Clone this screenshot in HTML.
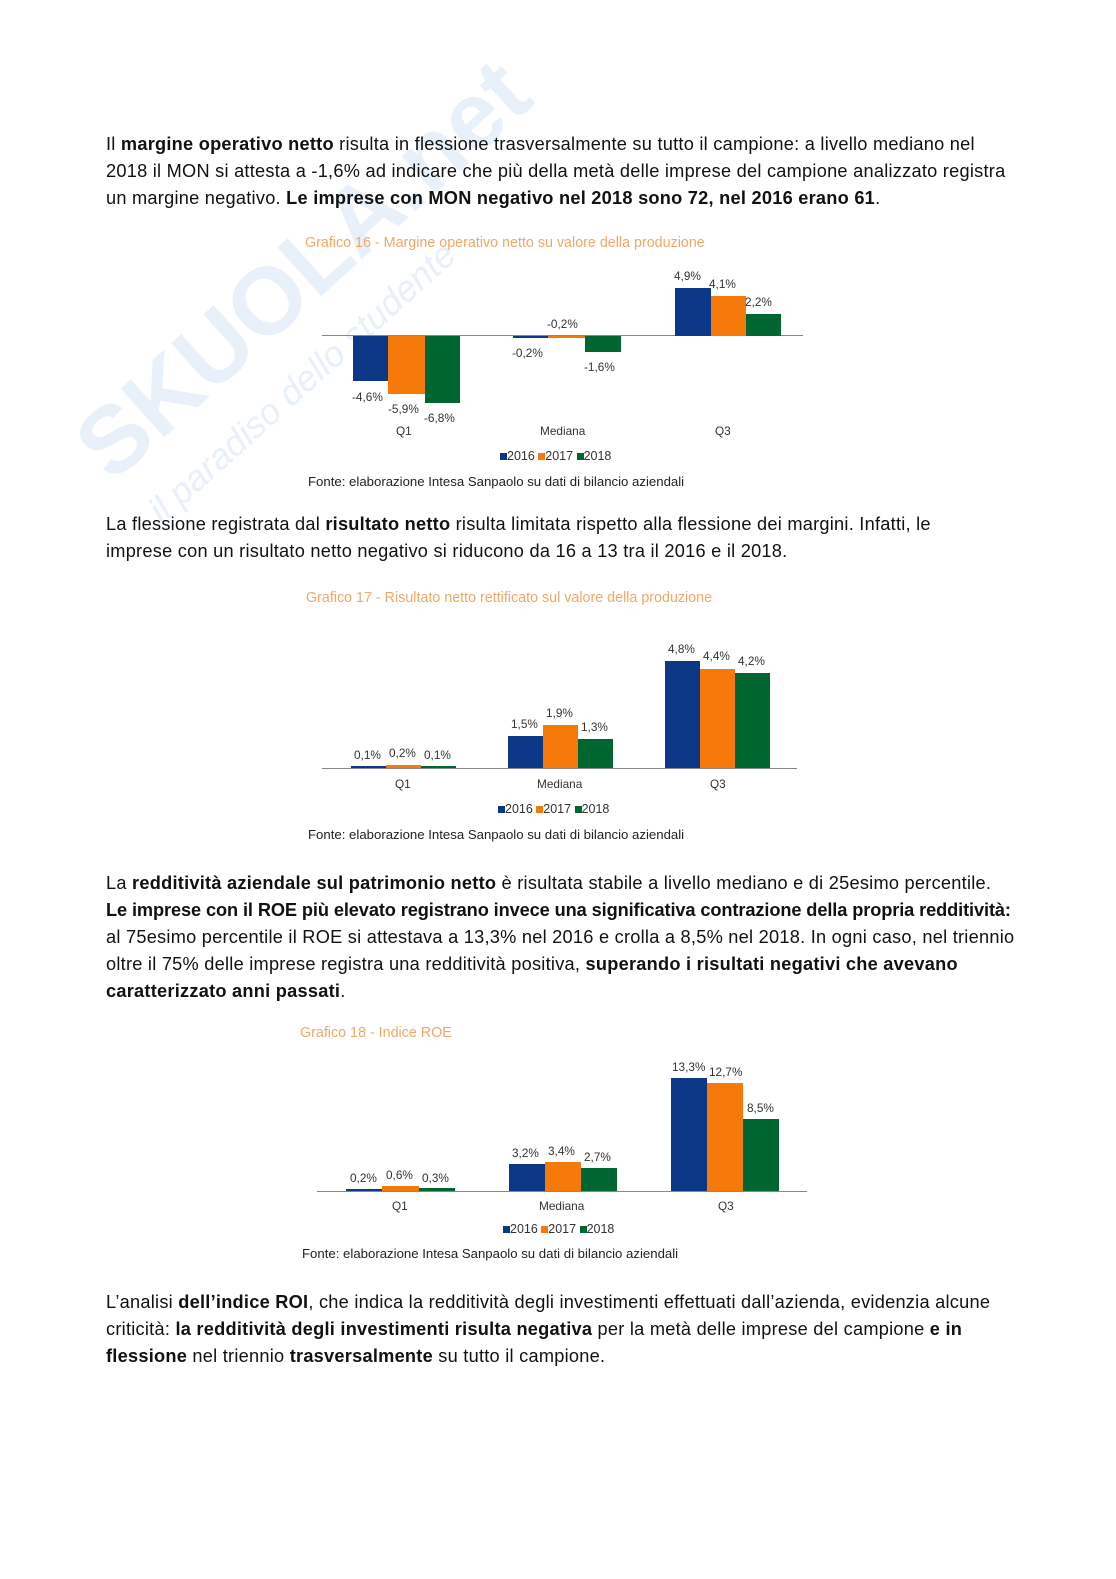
<!DOCTYPE html>
<html><head><meta charset="utf-8"><style>
body{margin:0;background:#fff;width:1116px;height:1579px;position:relative;overflow:hidden;font-family:"Liberation Sans",sans-serif}
.t{position:absolute;left:106px;font-size:18.2px;color:#111;white-space:nowrap;line-height:27px;letter-spacing:0.25px}
.a{position:absolute;font-size:11.8px;color:#333;white-space:nowrap}
.lg{font-size:12.5px}
.b{position:absolute}
.B{background:#0c3787}.O{background:#f57a0a}.G{background:#006631}
.ti{position:absolute;font-size:14.3px;color:#f0a868;white-space:nowrap}
.f{font-size:13.2px!important;color:#222!important}
.wm{position:absolute;font-size:95px;font-weight:bold;color:#e8f0f9;transform:rotate(-42deg);transform-origin:left top;white-space:nowrap}
</style></head><body>
<div class="wm" style="left:55px;top:420px">SKUOLA.net</div>
<div class="wm" style="left:140px;top:500px;font-size:36px;font-weight:normal;font-style:italic">il paradiso dello studente</div>

<div class="t" style="top:131px">Il <b>margine operativo netto</b> risulta in flessione trasversalmente su tutto il campione: a livello mediano nel</div>
<div class="t" style="top:158px">2018 il MON si attesta a -1,6% ad indicare che più della metà delle imprese del campione analizzato registra</div>
<div class="t" style="top:185px">un margine negativo. <b>Le imprese con MON negativo nel 2018 sono 72, nel 2016 erano 61</b>.</div>

<div class="ti" style="left:305px;top:235px">Grafico 16 - Margine operativo netto su valore della produzione</div>
<div class="b" style="left:322px;top:335px;width:481px;height:1px;background:#888"></div>
<div class="b B" style="left:353px;top:336px;width:35px;height:45px"></div>
<div class="b O" style="left:388px;top:336px;width:37px;height:58px"></div>
<div class="b G" style="left:425px;top:336px;width:35px;height:67px"></div>
<div class="b B" style="left:513px;top:336px;width:35px;height:2px"></div>
<div class="b O" style="left:548px;top:336px;width:37px;height:2px"></div>
<div class="b G" style="left:585px;top:336px;width:36px;height:16px"></div>
<div class="b B" style="left:675px;top:288px;width:36px;height:48px"></div>
<div class="b O" style="left:711px;top:296px;width:35px;height:40px"></div>
<div class="b G" style="left:746px;top:314px;width:35px;height:22px"></div>
<div class="a" style="left:352px;top:390px">-4,6%</div>
<div class="a" style="left:388px;top:402px">-5,9%</div>
<div class="a" style="left:424px;top:411px">-6,8%</div>
<div class="a" style="left:512px;top:346px">-0,2%</div>
<div class="a" style="left:547px;top:317px">-0,2%</div>
<div class="a" style="left:584px;top:360px">-1,6%</div>
<div class="a" style="left:674px;top:269px">4,9%</div>
<div class="a" style="left:709px;top:277px">4,1%</div>
<div class="a" style="left:745px;top:295px">2,2%</div>
<div class="a" style="left:396px;top:424px">Q1</div>
<div class="a" style="left:540px;top:424px">Mediana</div>
<div class="a" style="left:715px;top:424px">Q3</div>
<div class="a lg" style="left:500px;top:449px"><span class="B" style="display:inline-block;width:7px;height:7px"></span>2016 <span class="O" style="display:inline-block;width:7px;height:7px"></span>2017 <span class="G" style="display:inline-block;width:7px;height:7px"></span>2018</div>
<div class="a f" style="left:308px;top:474px">Fonte: elaborazione Intesa Sanpaolo su dati di bilancio aziendali</div>

<div class="t" style="top:511px">La flessione registrata dal <b>risultato netto</b> risulta limitata rispetto alla flessione dei margini. Infatti, le</div>
<div class="t" style="top:538px">imprese con un risultato netto negativo si riducono da 16 a 13 tra il 2016 e il 2018.</div>

<div class="ti" style="left:306px;top:590px">Grafico 17 - Risultato netto rettificato sul valore della produzione</div>
<div class="b" style="left:322px;top:768px;width:475px;height:1px;background:#888"></div>
<div class="b B" style="left:351px;top:766px;width:35px;height:2px"></div>
<div class="b O" style="left:386px;top:765px;width:35px;height:3px"></div>
<div class="b G" style="left:421px;top:766px;width:35px;height:2px"></div>
<div class="b B" style="left:508px;top:736px;width:35px;height:32px"></div>
<div class="b O" style="left:543px;top:725px;width:35px;height:43px"></div>
<div class="b G" style="left:578px;top:739px;width:35px;height:29px"></div>
<div class="b B" style="left:665px;top:661px;width:35px;height:107px"></div>
<div class="b O" style="left:700px;top:669px;width:35px;height:99px"></div>
<div class="b G" style="left:735px;top:673px;width:35px;height:95px"></div>
<div class="a" style="left:354px;top:748px">0,1%</div>
<div class="a" style="left:389px;top:746px">0,2%</div>
<div class="a" style="left:424px;top:748px">0,1%</div>
<div class="a" style="left:511px;top:717px">1,5%</div>
<div class="a" style="left:546px;top:706px">1,9%</div>
<div class="a" style="left:581px;top:720px">1,3%</div>
<div class="a" style="left:668px;top:642px">4,8%</div>
<div class="a" style="left:703px;top:649px">4,4%</div>
<div class="a" style="left:738px;top:654px">4,2%</div>
<div class="a" style="left:395px;top:777px">Q1</div>
<div class="a" style="left:537px;top:777px">Mediana</div>
<div class="a" style="left:710px;top:777px">Q3</div>
<div class="a lg" style="left:498px;top:802px"><span class="B" style="display:inline-block;width:7px;height:7px"></span>2016 <span class="O" style="display:inline-block;width:7px;height:7px"></span>2017 <span class="G" style="display:inline-block;width:7px;height:7px"></span>2018</div>
<div class="a f" style="left:308px;top:827px">Fonte: elaborazione Intesa Sanpaolo su dati di bilancio aziendali</div>

<div class="t" style="top:870px">La <b>redditività aziendale sul patrimonio netto</b> è risultata stabile a livello mediano e di 25esimo percentile.</div>
<div class="t" style="top:897px;letter-spacing:-0.1px"><b>Le imprese con il ROE più elevato registrano invece una significativa contrazione della propria redditività:</b></div>
<div class="t" style="top:924px">al 75esimo percentile il ROE si attestava a 13,3% nel 2016 e crolla a 8,5% nel 2018. In ogni caso, nel triennio</div>
<div class="t" style="top:951px">oltre il 75% delle imprese registra una redditività positiva, <b>superando i risultati negativi che avevano</b></div>
<div class="t" style="top:978px"><b>caratterizzato anni passati</b>.</div>

<div class="ti" style="left:300px;top:1025px">Grafico 18 - Indice ROE</div>
<div class="b" style="left:317px;top:1191px;width:490px;height:1px;background:#888"></div>
<div class="b B" style="left:346px;top:1189px;width:36px;height:2px"></div>
<div class="b O" style="left:382px;top:1186px;width:37px;height:5px"></div>
<div class="b G" style="left:419px;top:1188px;width:36px;height:3px"></div>
<div class="b B" style="left:509px;top:1164px;width:36px;height:27px"></div>
<div class="b O" style="left:545px;top:1162px;width:36px;height:29px"></div>
<div class="b G" style="left:581px;top:1168px;width:36px;height:23px"></div>
<div class="b B" style="left:671px;top:1078px;width:36px;height:113px"></div>
<div class="b O" style="left:707px;top:1083px;width:36px;height:108px"></div>
<div class="b G" style="left:743px;top:1119px;width:36px;height:72px"></div>
<div class="a" style="left:350px;top:1171px">0,2%</div>
<div class="a" style="left:386px;top:1168px">0,6%</div>
<div class="a" style="left:422px;top:1171px">0,3%</div>
<div class="a" style="left:512px;top:1146px">3,2%</div>
<div class="a" style="left:548px;top:1144px">3,4%</div>
<div class="a" style="left:584px;top:1150px">2,7%</div>
<div class="a" style="left:672px;top:1060px">13,3%</div>
<div class="a" style="left:709px;top:1065px">12,7%</div>
<div class="a" style="left:747px;top:1101px">8,5%</div>
<div class="a" style="left:392px;top:1199px">Q1</div>
<div class="a" style="left:539px;top:1199px">Mediana</div>
<div class="a" style="left:718px;top:1199px">Q3</div>
<div class="a lg" style="left:503px;top:1222px"><span class="B" style="display:inline-block;width:7px;height:7px"></span>2016 <span class="O" style="display:inline-block;width:7px;height:7px"></span>2017 <span class="G" style="display:inline-block;width:7px;height:7px"></span>2018</div>
<div class="a f" style="left:302px;top:1246px">Fonte: elaborazione Intesa Sanpaolo su dati di bilancio aziendali</div>

<div class="t" style="top:1289px">L’analisi <b>dell’indice ROI</b>, che indica la redditività degli investimenti effettuati dall’azienda, evidenzia alcune</div>
<div class="t" style="top:1316px">criticità: <b>la redditività degli investimenti risulta negativa</b> per la metà delle imprese del campione <b>e in</b></div>
<div class="t" style="top:1343px"><b>flessione</b> nel triennio <b>trasversalmente</b> su tutto il campione.</div>
</body></html>
